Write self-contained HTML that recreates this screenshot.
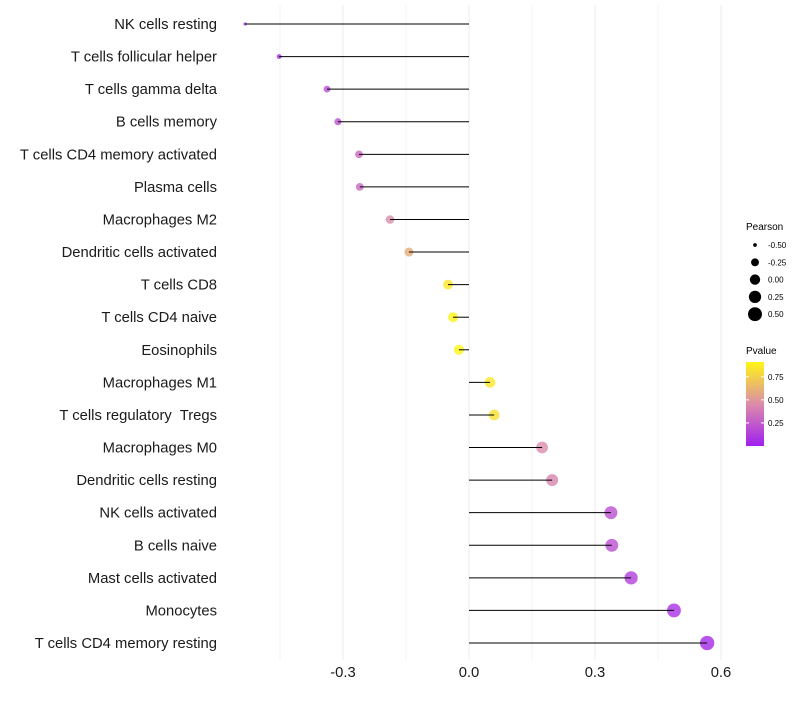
<!DOCTYPE html>
<html><head><meta charset="utf-8"><style>
body{margin:0;background:#fff;font-family:"Liberation Sans",sans-serif}
</style></head><body>
<svg id="chart" width="800" height="700" xmlns="http://www.w3.org/2000/svg" font-family="Liberation Sans, sans-serif">
<g id="grid"></g>
<g id="marks"></g>
<g id="ylabels"></g>
<g id="xlabels"></g>
<g id="legend"></g>
</svg>
<script>
const categories=["NK cells resting","T cells follicular helper","T cells gamma delta","B cells memory","T cells CD4 memory activated","Plasma cells","Macrophages M2","Dendritic cells activated","T cells CD8","T cells CD4 naive","Eosinophils","Macrophages M1","T cells regulatory  Tregs","Macrophages M0","Dendritic cells resting","NK cells activated","B cells naive","Mast cells activated","Monocytes","T cells CD4 memory resting"];
const pearson=[-0.533,-0.452,-0.338,-0.312,-0.262,-0.26,-0.188,-0.143,-0.05,-0.038,-0.024,0.05,0.06,0.174,0.198,0.338,0.34,0.386,0.488,0.567];
const pvalue=[0.02,0.04,0.18,0.2,0.3,0.3,0.45,0.6,0.85,0.9,0.95,0.85,0.82,0.45,0.42,0.2,0.2,0.13,0.07,0.04];
const xTicks=[-0.3,0,0.3,0.6];
const xTickLabels=["-0.3","0.0","0.3","0.6"];
const sizeLegend=[-0.5,-0.25,0,0.25,0.5];
const colorLegend=[0.75,0.5,0.25];

const NS="http://www.w3.org/2000/svg";
const X=v=>469+v*420;
const Y=i=>24+i*(643-24)/(categories.length-1);
const R=v=>Math.max(1.6,0.5+Math.sqrt(Math.max(0,(v+0.545)*40)));
function col(p){
  const t=Math.max(0,Math.min(1,p/0.91));
  const a=[160,32,240],b=[220,140,170],c=[255,245,20];
  let s,e,u;
  if(t<0.5){s=a;e=b;u=t/0.5}else{s=b;e=c;u=(t-0.5)/0.5}
  return `rgb(${s.map((x,k)=>Math.round(x+(e[k]-x)*u)).join(",")})`;
}
function mk(tag,attrs,parent){const el=document.createElementNS(NS,tag);for(const k in attrs)el.setAttribute(k,attrs[k]);parent.appendChild(el);return el;}
const grid=document.getElementById("grid");
for(let v=-0.45;v<=0.61;v+=0.15){
  const l=mk("line",{x1:X(v),x2:X(v),y1:5,y2:660,stroke:"#ebebeb","stroke-width":Math.abs(Math.round(v/0.15))%2===0?1:0.6},grid);
  
  
}
const marks=document.getElementById("marks"),yl=document.getElementById("ylabels");
categories.forEach((c,i)=>{
  const p=mk("circle",{cx:X(pearson[i]),cy:Y(i),r:R(pearson[i]),fill:col(pvalue[i]),"fill-opacity":0.8},marks);
  
  
  const l=mk("line",{x1:X(0),x2:X(pearson[i]),y1:Y(i),y2:Y(i),stroke:"#000","stroke-width":1},marks);
  
  
  const t=mk("text",{x:217,y:Y(i)+5,"text-anchor":"end","font-size":14.8,fill:"#1a1a1a"},yl);
  t.style.whiteSpace="pre";
  t.textContent=c;
  
  
});
const xl=document.getElementById("xlabels");
xTicks.forEach((v,i)=>{
  const t=mk("text",{x:X(v),y:677,"text-anchor":"middle","font-size":14.8,fill:"#1a1a1a"},xl);
  t.textContent=xTickLabels[i];
  
  
});
const lg=document.getElementById("legend");
const t1=mk("text",{x:746,y:230,"font-size":10,fill:"#000"},lg);t1.textContent="Pearson";


sizeLegend.forEach((v,i)=>{
  const y=245+i*17.3;
  const c=mk("circle",{cx:755,cy:y,r:R(v),fill:"#000"},lg);
  
  
  const t=mk("text",{x:768,y:y+3,"font-size":8,fill:"#000"},lg);t.textContent=v.toFixed(2);
  
  
});
const t2=mk("text",{x:746,y:354,"font-size":10,fill:"#000"},lg);t2.textContent="Pvalue";


const defs=mk("defs",{},lg);
const gr=mk("linearGradient",{id:"pg",x1:0,y1:1,x2:0,y2:0},defs);
for(let k=0;k<=10;k++)mk("stop",{offset:k/10,"stop-color":col(0.91*k/10)},gr);
const bar=mk("rect",{x:746,y:362,width:18,height:84,fill:"url(#pg)"},lg);


colorLegend.forEach(v=>{
  const y=446-v/0.91*84;
  mk("line",{x1:746,x2:749,y1:y,y2:y,stroke:"#fff"},lg);
  mk("line",{x1:761,x2:764,y1:y,y2:y,stroke:"#fff"},lg);
  const t=mk("text",{x:768,y:y+3,"font-size":8,fill:"#000"},lg);t.textContent=v.toFixed(2);
  
  
});
</script>
</body></html>
